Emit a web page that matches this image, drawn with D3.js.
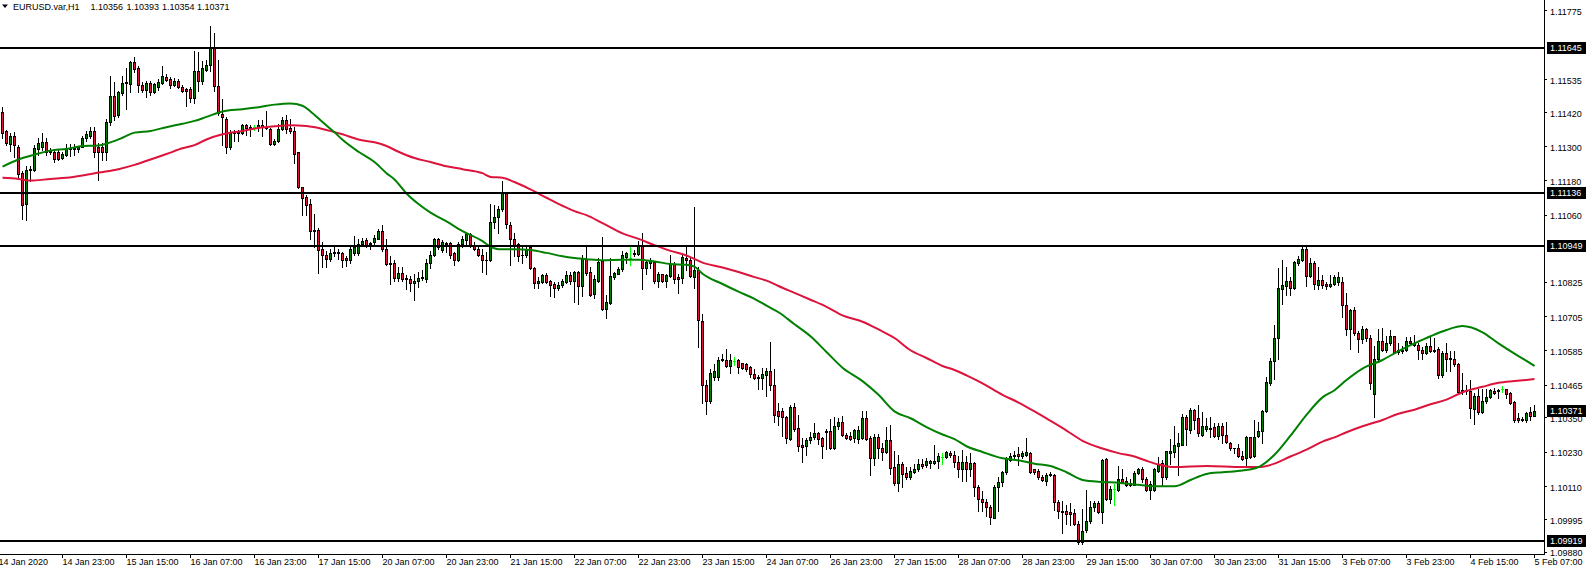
<!DOCTYPE html>
<html><head><meta charset="utf-8">
<script src="https://cdn.jsdelivr.net/npm/d3@7"></script>
<style>
html,body{margin:0;padding:0;background:#fff;overflow:hidden}
svg text{font-family:"Liberation Sans",Arial,sans-serif;font-size:9px;fill:#000}
</style>
</head><body>
<svg id="c" width="1587" height="570"></svg>
<script>
// ---- EURUSD H1 candles (index 0 = first visible bar) ----
const opens = [
1.11420,1.11351,1.11307,1.11335,1.11298,1.11207,1.11097,1.11219,1.11217,1.11290,1.11298,1.11313,1.11284,1.11280,1.11280,1.11258,1.11270,1.11292,1.11289,1.11290,1.11298,1.11327,1.11335,1.11353,1.11298,1.11298,1.11280,1.11384,1.11475,1.11408,1.11485,1.11521,1.11518,1.11594,1.11573,1.11514,1.11497,1.11522,1.11488,1.11506,1.11522,1.11543,1.11533,1.11512,1.11527,1.11508,1.11499,1.11499,
1.11469,1.11561,1.11527,1.11567,1.11583,1.11646,1.11510,1.11411,1.11396,1.11298,1.11344,1.11347,1.11347,1.11374,1.11364,1.11366,1.11366,1.11374,1.11368,1.11360,1.11307,1.11317,1.11360,1.11392,1.11363,1.11353,1.11278,1.11156,1.11122,1.11097,1.11006,1.11006,1.10941,1.10917,1.10905,1.10926,1.10930,1.10924,1.10908,1.10900,1.10926,1.10926,1.10957,1.10970,1.10957,1.10963,1.10976,1.11002,
1.10941,1.10890,1.10890,1.10839,1.10856,1.10838,1.10834,1.10819,1.10826,1.10838,1.10835,1.10890,1.10917,1.10975,1.10936,1.10962,1.10960,1.10924,1.10902,1.10957,1.10972,1.10991,1.10953,1.10941,1.10920,1.10902,1.10902,1.11033,1.11051,1.11079,1.11134,1.11024,1.10975,1.10957,1.10917,1.10917,1.10945,1.10872,1.10819,1.10823,1.10850,1.10826,1.10816,1.10802,1.10814,1.10823,1.10847,1.10826,
1.10859,1.10810,1.10904,1.10859,1.10782,1.10829,1.10896,1.10731,1.10750,1.10841,1.10853,1.10868,1.10912,1.10908,1.10923,1.10923,1.10951,1.10872,1.10890,1.10893,1.10826,1.10851,1.10826,1.10846,1.10887,1.10841,1.10838,1.10908,1.10902,1.10841,1.10866,1.10689,1.10463,1.10408,1.10490,1.10490,1.10551,1.10551,1.10530,1.10548,1.10551,1.10539,1.10536,1.10527,1.10503,1.10490,1.10487,
1.10499,1.10512,1.10463,1.10374,1.10372,1.10353,1.10274,1.10387,1.10314,1.10252,1.10249,1.10270,1.10280,1.10296,1.10277,1.10298,1.10304,1.10243,1.10319,1.10335,1.10290,1.10284,1.10277,1.10274,1.10277,1.10347,1.10277,1.10207,1.10282,1.10243,1.10229,1.10270,1.10176,1.10121,1.10188,1.10155,1.10143,1.10160,1.10170,1.10188,1.10182,1.10192,1.10192,1.10197,1.10213,1.10213,1.10225,
1.10219,1.10194,1.10168,1.10194,1.10168,1.10192,1.10107,1.10063,1.10054,1.10038,1.09999,1.10107,1.10124,1.10158,1.10200,1.10214,1.10221,1.10216,1.10219,1.10225,1.10168,1.10164,1.10143,1.10128,1.10152,1.10148,1.10054,1.10024,1.10024,1.10018,1.10014,1.09977,1.09914,1.09957,1.09986,1.10036,1.10050,1.10020,1.10204,1.10066,1.10099,1.10097,1.10136,1.10126,1.10119,1.10114,1.10155,1.10170,
1.10136,1.10097,1.10097,1.10164,1.10192,1.10140,1.10225,1.10229,1.10249,1.10255,1.10353,1.10307,1.10375,1.10347,1.10290,1.10310,1.10313,1.10316,1.10286,1.10319,1.10290,1.10262,1.10244,1.10243,1.10216,1.10207,1.10280,1.10216,1.10286,1.10304,1.10371,1.10469,1.10548,1.10627,1.10798,1.10810,1.10829,1.10802,1.10892,1.10902,1.10941,1.10845,1.10890,1.10814,1.10831,1.10817,1.10809,1.10817,
1.10823,1.10823,1.10743,1.10658,1.10725,1.10646,1.10624,1.10660,1.10627,1.10432,1.10554,1.10619,1.10585,1.10609,1.10634,1.10579,1.10587,1.10585,1.10619,1.10603,1.10603,1.10585,1.10575,1.10599,1.10582,1.10591,1.10497,1.10575,1.10558,1.10554,1.10538,1.10445,1.10445,1.10441,1.10380,1.10426,1.10368,1.10408,1.10423,1.10441,1.10441,1.10451,1.10448,1.10436,1.10403,1.10347,1.10342,1.10340,1.10368,1.10356
];
const highs = [
1.11438,1.11356,1.11347,1.11350,1.11305,1.11213,1.11231,1.11231,1.11305,1.11329,1.11345,1.11329,1.11292,1.11286,1.11289,1.11280,1.11307,1.11307,1.11307,1.11300,1.11335,1.11353,1.11366,1.11366,1.11311,1.11311,1.11396,1.11546,1.11524,1.11494,1.11546,1.11573,1.11597,1.11610,1.11579,1.11524,1.11527,1.11527,1.11522,1.11536,1.11579,1.11551,1.11543,1.11539,1.11534,1.11512,1.11502,1.11506,
1.11634,1.11628,1.11597,1.11600,1.11722,1.11695,1.11600,1.11463,1.11402,1.11356,1.11356,1.11356,1.11378,1.11378,1.11374,1.11374,1.11390,1.11390,1.11423,1.11364,1.11323,1.11378,1.11402,1.11408,1.11396,1.11368,1.11280,1.11158,1.11128,1.11116,1.11061,1.11012,1.10963,1.10932,1.10941,1.10945,1.10939,1.10930,1.10914,1.10945,1.10984,1.10975,1.10978,1.10978,1.10965,1.10990,1.11009,1.11024,
1.10973,1.10914,1.10902,1.10878,1.10875,1.10847,1.10845,1.10853,1.10859,1.10865,1.10905,1.10932,1.10978,1.10978,1.10972,1.10965,1.10965,1.10929,1.10963,1.10984,1.10997,1.10997,1.10963,1.10950,1.10941,1.10929,1.11097,1.11094,1.11091,1.11177,1.11137,1.11034,1.10997,1.10960,1.10948,1.10948,1.10948,1.10875,1.10841,1.10853,1.10856,1.10831,1.10823,1.10823,1.10835,1.10863,1.10859,1.10863,
1.10863,1.10920,1.10948,1.10878,1.10847,1.10908,1.10981,1.10780,1.10908,1.10859,1.10875,1.10932,1.10929,1.10945,1.10936,1.10969,1.10997,1.10902,1.10908,1.10896,1.10859,1.10853,1.10853,1.10920,1.10893,1.10853,1.10920,1.10948,1.10908,1.11087,1.10875,1.10713,1.10481,1.10518,1.10536,1.10561,1.10573,1.10591,1.10573,1.10563,1.10555,1.10542,1.10539,1.10530,1.10518,1.10499,1.10524,
1.10524,1.10615,1.10521,1.10399,1.10384,1.10355,1.10395,1.10399,1.10359,1.10277,1.10277,1.10298,1.10331,1.10298,1.10282,1.10310,1.10343,1.10353,1.10347,1.10355,1.10295,1.10298,1.10310,1.10319,1.10374,1.10374,1.10286,1.10292,1.10292,1.10262,1.10316,1.10322,1.10231,1.10219,1.10194,1.10176,1.10176,1.10188,1.10204,1.10204,1.10209,1.10200,1.10253,1.10225,1.10225,1.10231,1.10231,
1.10233,1.10216,1.10237,1.10216,1.10225,1.10194,1.10112,1.10094,1.10063,1.10042,1.10112,1.10143,1.10164,1.10213,1.10225,1.10231,1.10246,1.10231,1.10277,1.10229,1.10170,1.10170,1.10148,1.10155,1.10158,1.10152,1.10060,1.10058,1.10042,1.10050,1.10030,1.09986,1.10030,1.10097,1.10058,1.10058,1.10058,1.10204,1.10207,1.10109,1.10116,1.10180,1.10170,1.10143,1.10133,1.10164,1.10172,1.10176,
1.10140,1.10128,1.10172,1.10213,1.10200,1.10233,1.10274,1.10319,1.10295,1.10363,1.10359,1.10384,1.10380,1.10392,1.10368,1.10347,1.10353,1.10329,1.10329,1.10331,1.10335,1.10265,1.10244,1.10258,1.10233,1.10286,1.10282,1.10341,1.10335,1.10377,1.10493,1.10558,1.10673,1.10872,1.10900,1.10878,1.10841,1.10896,1.10914,1.10948,1.10945,1.10908,1.10896,1.10878,1.10847,1.10823,1.10847,1.10847,
1.10859,1.10843,1.10786,1.10728,1.10737,1.10652,1.10670,1.10664,1.10640,1.10599,1.10658,1.10664,1.10636,1.10656,1.10636,1.10612,1.10599,1.10631,1.10631,1.10640,1.10612,1.10597,1.10609,1.10631,1.10627,1.10595,1.10582,1.10609,1.10582,1.10582,1.10542,1.10506,1.10465,1.10481,1.10436,1.10451,1.10448,1.10451,1.10448,1.10453,1.10448,1.10460,1.10451,1.10438,1.10408,1.10365,1.10350,1.10370,1.10385,1.10393
];
const lows = [
1.11329,1.11305,1.11283,1.11262,1.11189,1.11046,1.11040,1.11176,1.11213,1.11268,1.11286,1.11268,1.11272,1.11244,1.11250,1.11253,1.11266,1.11266,1.11270,1.11280,1.11295,1.11317,1.11329,1.11262,1.11180,1.11250,1.11250,1.11375,1.11392,1.11400,1.11479,1.11429,1.11490,1.11558,1.11490,1.11488,1.11473,1.11479,1.11485,1.11497,1.11518,1.11527,1.11502,1.11509,1.11502,1.11488,1.11439,1.11453,
1.11451,1.11494,1.11518,1.11561,1.11561,1.11494,1.11408,1.11305,1.11274,1.11290,1.11319,1.11317,1.11341,1.11340,1.11335,1.11356,1.11353,1.11335,1.11358,1.11305,1.11302,1.11314,1.11356,1.11344,1.11347,1.11241,1.11152,1.11058,1.11058,1.10975,1.10948,1.10856,1.10878,1.10878,1.10896,1.10914,1.10905,1.10878,1.10881,1.10890,1.10920,1.10917,1.10951,1.10945,1.10939,1.10950,1.10973,1.10932,
1.10884,1.10817,1.10826,1.10829,1.10826,1.10801,1.10792,1.10762,1.10807,1.10831,1.10823,1.10872,1.10914,1.10941,1.10929,1.10929,1.10908,1.10884,1.10899,1.10948,1.10950,1.10948,1.10936,1.10914,1.10859,1.10853,1.10899,1.11014,1.10994,1.11073,1.11012,1.10884,1.10914,1.10899,1.10890,1.10911,1.10868,1.10804,1.10804,1.10819,1.10819,1.10774,1.10771,1.10795,1.10807,1.10819,1.10817,1.10753,
1.10746,1.10774,1.10850,1.10774,1.10768,1.10823,1.10725,1.10697,1.10746,1.10835,1.10851,1.10863,1.10892,1.10884,1.10914,1.10920,1.10798,1.10851,1.10872,1.10819,1.10807,1.10823,1.10807,1.10841,1.10819,1.10786,1.10819,1.10866,1.10841,1.10802,1.10597,1.10402,1.10363,1.10402,1.10481,1.10481,1.10548,1.10527,1.10506,1.10533,1.10506,1.10518,1.10512,1.10493,1.10485,1.10451,1.10448,
1.10426,1.10445,1.10335,1.10322,1.10286,1.10262,1.10270,1.10304,1.10231,1.10194,1.10219,1.10262,1.10274,1.10258,1.10209,1.10241,1.10241,1.10241,1.10310,1.10286,1.10274,1.10270,1.10265,1.10262,1.10274,1.10270,1.10148,1.10182,1.10207,1.10200,1.10225,1.10152,1.10112,1.10094,1.10105,1.10133,1.10136,1.10155,1.10164,1.10172,1.10176,1.10172,1.10188,1.10172,1.10188,1.10207,1.10213,
1.10176,1.10140,1.10128,1.10128,1.10146,1.10075,1.10021,1.10021,1.10005,1.09977,1.09997,1.10024,1.10109,1.10152,1.10197,1.10209,1.10182,1.10209,1.10216,1.10155,1.10152,1.10133,1.10126,1.10112,1.10146,1.10026,1.09997,1.09944,1.09977,1.09974,1.09974,1.09905,1.09908,1.09948,1.09981,1.10024,1.10014,1.09981,1.10060,1.10050,1.10042,1.10094,1.10119,1.10109,1.10109,1.10112,1.10152,1.10124,
1.10094,1.10066,1.10094,1.10158,1.10112,1.10133,1.10188,1.10213,1.10148,1.10253,1.10255,1.10295,1.10310,1.10286,1.10286,1.10304,1.10282,1.10280,1.10274,1.10262,1.10262,1.10237,1.10225,1.10213,1.10200,1.10182,1.10209,1.10213,1.10282,1.10262,1.10368,1.10465,1.10485,1.10554,1.10746,1.10780,1.10778,1.10798,1.10884,1.10896,1.10810,1.10841,1.10798,1.10798,1.10802,1.10798,1.10807,1.10814,
1.10814,1.10701,1.10640,1.10591,1.10640,1.10579,1.10609,1.10619,1.10451,1.10353,1.10548,1.10582,1.10579,1.10603,1.10575,1.10573,1.10575,1.10582,1.10603,1.10599,1.10554,1.10554,1.10573,1.10579,1.10579,1.10487,1.10493,1.10514,1.10512,1.10530,1.10435,1.10432,1.10432,1.10347,1.10326,1.10363,1.10365,1.10402,1.10418,1.10432,1.10418,1.10438,1.10418,1.10396,1.10335,1.10335,1.10338,1.10335,1.10340,1.10354
];
const closes = [
1.11347,1.11311,1.11335,1.11305,1.11201,1.11095,1.11217,1.11215,1.11292,1.11311,1.11314,1.11280,1.11278,1.11256,1.11253,1.11273,1.11292,1.11289,1.11293,1.11298,1.11329,1.11341,1.11353,1.11280,1.11280,1.11280,1.11384,1.11475,1.11406,1.11488,1.11522,1.11523,1.11594,1.11569,1.11514,1.11497,1.11522,1.11488,1.11518,1.11524,1.11546,1.11530,1.11512,1.11527,1.11506,1.11491,1.11494,1.11469,
1.11561,1.11527,1.11573,1.11585,1.11646,1.11510,1.11414,1.11402,1.11298,1.11344,1.11347,1.11350,1.11374,1.11362,1.11368,1.11366,1.11374,1.11368,1.11364,1.11307,1.11319,1.11360,1.11392,1.11360,1.11351,1.11272,1.11155,1.11119,1.11095,1.11002,1.11002,1.10936,1.10917,1.10905,1.10926,1.10930,1.10924,1.10900,1.10900,1.10941,1.10945,1.10957,1.10969,1.10953,1.10962,1.10978,1.11002,1.10941,
1.10887,1.10887,1.10839,1.10856,1.10835,1.10835,1.10819,1.10826,1.10839,1.10841,1.10890,1.10917,1.10975,1.10945,1.10963,1.10957,1.10920,1.10902,1.10957,1.10973,1.10991,1.10953,1.10939,1.10920,1.10900,1.10900,1.11033,1.11051,1.11079,1.11134,1.11027,1.10975,1.10953,1.10914,1.10920,1.10936,1.10872,1.10819,1.10829,1.10847,1.10823,1.10814,1.10802,1.10814,1.10826,1.10847,1.10826,1.10859,
1.10810,1.10904,1.10856,1.10780,1.10835,1.10893,1.10731,1.10753,1.10845,1.10856,1.10870,1.10917,1.10926,1.10908,1.10926,1.10951,1.10872,1.10893,1.10896,1.10826,1.10853,1.10826,1.10847,1.10887,1.10835,1.10835,1.10912,1.10902,1.10845,1.10866,1.10692,1.10463,1.10408,1.10506,1.10512,1.10551,1.10555,1.10530,1.10551,1.10548,1.10527,1.10524,1.10521,1.10502,1.10487,1.10487,1.10503,
1.10512,1.10465,1.10359,1.10355,1.10353,1.10277,1.10387,1.10310,1.10249,1.10246,1.10270,1.10280,1.10296,1.10274,1.10249,1.10304,1.10243,1.10319,1.10335,1.10290,1.10277,1.10274,1.10307,1.10307,1.10347,1.10274,1.10207,1.10282,1.10243,1.10229,1.10270,1.10172,1.10121,1.10188,1.10152,1.10140,1.10164,1.10170,1.10188,1.10180,1.10197,1.10197,1.10199,1.10216,1.10213,1.10228,1.10219,
1.10194,1.10168,1.10194,1.10168,1.10192,1.10107,1.10063,1.10054,1.10038,1.10002,1.10107,1.10124,1.10158,1.10209,1.10216,1.10219,1.10216,1.10225,1.10228,1.10160,1.10158,1.10140,1.10130,1.10148,1.10148,1.10054,1.10024,1.10018,1.10011,1.10011,1.09977,1.09914,1.09954,1.09988,1.10036,1.10050,1.10020,1.10200,1.10066,1.10099,1.10099,1.10136,1.10124,1.10112,1.10114,1.10155,1.10170,1.10133,
1.10097,1.10116,1.10168,1.10188,1.10140,1.10231,1.10231,1.10255,1.10260,1.10353,1.10310,1.10377,1.10341,1.10295,1.10319,1.10319,1.10310,1.10286,1.10319,1.10290,1.10265,1.10243,1.10243,1.10216,1.10204,1.10280,1.10213,1.10282,1.10304,1.10371,1.10473,1.10548,1.10627,1.10804,1.10814,1.10829,1.10802,1.10893,1.10904,1.10941,1.10845,1.10890,1.10817,1.10831,1.10814,1.10810,1.10817,1.10841,
1.10841,1.10743,1.10658,1.10725,1.10646,1.10624,1.10660,1.10627,1.10469,1.10554,1.10619,1.10587,1.10612,1.10634,1.10579,1.10587,1.10582,1.10619,1.10609,1.10612,1.10585,1.10575,1.10599,1.10582,1.10587,1.10497,1.10575,1.10554,1.10554,1.10538,1.10438,1.10438,1.10441,1.10384,1.10426,1.10368,1.10408,1.10420,1.10445,1.10436,1.10445,1.10451,1.10432,1.10399,1.10341,1.10341,1.10345,1.10365,1.10356,1.10371
];

// ---- moving averages: [bar index, value] ----
const fastMA = [[0,1.11228],[4,1.11253],[8,1.11270],[12,1.11284],[16,1.11290],[20,1.11300],[24,1.11302],[27,1.11313],[30,1.11329],[33,1.11347],[37,1.11353],[41,1.11366],[45,1.11378],[48,1.11388],[51,1.11402],[55,1.11421],[60,1.11429],[64,1.11436],[68,1.11445],[72,1.11449],[75,1.11441],[77,1.11421],[80,1.11384],[83,1.11348],[85,1.11322],[89,1.11280],[93,1.11244],[96,1.11205],[98,1.11183],[101,1.11134],[104,1.11097],[107,1.11067],[111,1.11036],[115,1.11002],[120,1.10967],[122,1.10948],[124,1.10939],[128,1.10939],[132,1.10936],[136,1.10926],[140,1.10914],[143,1.10908],[146,1.10904],[150,1.10900],[155,1.10902],[159,1.10902],[163,1.10896],[167,1.10887],[171,1.10884],[173,1.10878],[175,1.10853],[180,1.10817],[184,1.10790],[188,1.10765],[191,1.10741],[194,1.10718],[198,1.10676],[202,1.10634],[206,1.10579],[210,1.10524],[215,1.10477],[219,1.10429],[223,1.10371],[227,1.10347],[231,1.10316],[235,1.10290],[238,1.10274],[241,1.10249],[245,1.10229],[250,1.10207],[254,1.10200],[258,1.10188],[262,1.10180],[266,1.10158],[270,1.10131],[275,1.10124],[279,1.10121],[283,1.10115],[286,1.10111],[289,1.10109],[293,1.10109],[297,1.10131],[301,1.10152],[305,1.10158],[310,1.10164],[314,1.10176],[318,1.10219],[322,1.10286],[326,1.10359],[330,1.10420],[333,1.10445],[336,1.10481],[340,1.10521],[345,1.10551],[349,1.10582],[353,1.10609],[357,1.10634],[361,1.10656],[365,1.10670],[370,1.10648],[374,1.10609],[378,1.10573],[381,1.10548],[383,1.10530]];
const slowMA = [[0,1.11189],[4,1.11185],[7,1.11179],[12,1.11185],[16,1.11189],[20,1.11197],[24,1.11207],[29,1.11219],[33,1.11234],[37,1.11253],[41,1.11272],[45,1.11292],[48,1.11303],[51,1.11323],[55,1.11341],[60,1.11353],[64,1.11363],[68,1.11369],[72,1.11373],[76,1.11370],[80,1.11360],[85,1.11341],[89,1.11323],[93,1.11313],[96,1.11300],[99,1.11280],[103,1.11258],[107,1.11244],[111,1.11229],[115,1.11219],[120,1.11205],[122,1.11192],[125,1.11189],[128,1.11174],[132,1.11148],[136,1.11119],[140,1.11091],[143,1.11072],[146,1.11058],[150,1.11030],[155,1.10994],[159,1.10975],[163,1.10953],[167,1.10933],[171,1.10917],[175,1.10892],[180,1.10875],[184,1.10859],[188,1.10841],[191,1.10829],[194,1.10810],[198,1.10786],[202,1.10762],[206,1.10737],[210,1.10707],[215,1.10685],[219,1.10658],[223,1.10628],[227,1.10585],[231,1.10558],[235,1.10530],[238,1.10516],[241,1.10497],[245,1.10469],[250,1.10429],[254,1.10402],[258,1.10371],[262,1.10338],[266,1.10304],[270,1.10268],[275,1.10241],[279,1.10225],[283,1.10213],[286,1.10198],[289,1.10185],[293,1.10176],[301,1.10180],[310,1.10176],[314,1.10176],[318,1.10188],[322,1.10213],[326,1.10237],[330,1.10265],[333,1.10280],[336,1.10298],[340,1.10319],[345,1.10341],[349,1.10363],[353,1.10377],[357,1.10396],[361,1.10412],[365,1.10438],[370,1.10457],[374,1.10471],[378,1.10477],[381,1.10481],[383,1.10484]];

// ---- horizontal levels, axis labels ----
const levels = [1.11645, 1.11136, 1.10949, 1.09919];
const lastPrice = 1.10371;
const priceTicks = [1.11775,1.11535,1.11420,1.11300,1.11180,1.11060,1.10825,1.10705,1.10585,1.10465,1.10350,1.10230,1.10110,1.09995,1.09880];
const timeLabels = ["14 Jan 2020","14 Jan 23:00","15 Jan 15:00","16 Jan 07:00","16 Jan 23:00","17 Jan 15:00","20 Jan 07:00","20 Jan 23:00","21 Jan 15:00","22 Jan 07:00","22 Jan 23:00","23 Jan 15:00","24 Jan 07:00","26 Jan 23:00","27 Jan 15:00","28 Jan 07:00","28 Jan 23:00","29 Jan 15:00","30 Jan 07:00","30 Jan 23:00","31 Jan 15:00","3 Feb 07:00","3 Feb 23:00","4 Feb 15:00","5 Feb 07:00"];
const timeLabelBars = timeLabels.map((_, k) => -1 + 16 * k);
const titleParts = ["EURUSD.var,H1", "1.10356", "1.10393", "1.10354", "1.10371"];

const BULL = "#008000", BEAR = "#dc143c", DOJI = "#00ff00";
const plotRight = 1544, plotBottom = 554;

const svg = d3.select("#c");
const x = d3.scaleLinear().domain([0, 383]).range([2, 1534]);
const y = d3.scaleLinear().domain([1.09919, 1.11645]).range([540.5, 47.5]);

const bars = opens.map((o, i) => ({ i, o, h: highs[i], l: lows[i], c: closes[i] }));

const clip = svg.append("defs").append("clipPath").attr("id", "plot")
  .append("rect").attr("x", 0).attr("y", 0).attr("width", plotRight).attr("height", plotBottom);

const plot = svg.append("g").attr("clip-path", "url(#plot)");

// candles
const cg = plot.append("g").attr("shape-rendering", "crispEdges");
bars.forEach(b => {
  const cx = Math.round(x(b.i));
  const yh = Math.round(y(b.h)), yl = Math.round(y(b.l));
  const yo = Math.round(y(b.o)), yc = Math.round(y(b.c));
  if (b.o === b.c) {
    cg.append("rect").attr("x", cx).attr("y", yh).attr("width", 1).attr("height", Math.max(1, yl - yh + 1)).attr("fill", DOJI);
    cg.append("rect").attr("x", cx - 1).attr("y", yo).attr("width", 3).attr("height", 1).attr("fill", DOJI);
    return;
  }
  cg.append("rect").attr("x", cx).attr("y", yh).attr("width", 1).attr("height", Math.max(1, yl - yh + 1)).attr("fill", "#000");
  const top = Math.min(yo, yc), bot = Math.max(yo, yc);
  cg.append("rect").attr("x", cx - 1).attr("y", top).attr("width", 3).attr("height", bot - top + 1).attr("fill", "#000");
  if (bot - top >= 2) {
    cg.append("rect").attr("x", cx).attr("y", top + 1).attr("width", 1).attr("height", bot - top - 1)
      .attr("fill", b.c > b.o ? BULL : BEAR);
  }
});

// moving averages
const line = d3.line().x(d => x(d[0]) + 0.5).y(d => y(d[1])).curve(d3.curveMonotoneX);
plot.append("path").datum(slowMA).attr("d", line).attr("fill", "none").attr("stroke", BEAR).attr("stroke-width", 2);
plot.append("path").datum(fastMA).attr("d", line).attr("fill", "none").attr("stroke", BULL).attr("stroke-width", 2);

// horizontal level lines
svg.append("g").attr("shape-rendering", "crispEdges").selectAll("rect").data(levels).join("rect")
  .attr("x", 0).attr("width", plotRight).attr("y", d => Math.round(y(d)) - 1).attr("height", 2).attr("fill", "#000");

// frame
svg.append("line").attr("x1", plotRight + 0.5).attr("x2", plotRight + 0.5).attr("y1", 0).attr("y2", plotBottom + 1)
  .attr("stroke", "#000").attr("shape-rendering", "crispEdges");
svg.append("line").attr("x1", 0).attr("x2", plotRight + 1).attr("y1", plotBottom + 0.5).attr("y2", plotBottom + 0.5)
  .attr("stroke", "#000").attr("shape-rendering", "crispEdges");

// price axis
const yAxis = d3.axisRight(y).tickValues(priceTicks).tickSize(3).tickPadding(3).tickFormat(d3.format(".5f"));
const ya = svg.append("g").attr("transform", `translate(${plotRight},0)`).call(yAxis);
ya.select(".domain").remove();
ya.selectAll("line").attr("stroke", "#000").attr("shape-rendering", "crispEdges");
ya.selectAll("text").attr("font-size", null).attr("font-family", null).attr("dy", "0.36em").attr("y", 1);

// highlighted price boxes
const boxes = levels.concat([lastPrice]);
const bg = svg.append("g");
boxes.forEach(v => {
  const yy = Math.round(y(v));
  bg.append("rect").attr("x", plotRight + 3).attr("y", yy - 6).attr("width", 39).attr("height", 12).attr("fill", "#000")
    .attr("shape-rendering", "crispEdges");
  bg.append("text").attr("x", plotRight + 6).attr("y", yy).attr("dy", "0.36em").style("fill", "#fff")
    .text(d3.format(".5f")(v));
});

// time axis
const xAxis = d3.axisBottom(x).tickValues(timeLabelBars).tickSize(4).tickPadding(1)
  .tickFormat((d, k) => timeLabels[k]);
const xa = svg.append("g").attr("transform", `translate(0,${plotBottom})`).call(xAxis);
xa.select(".domain").remove();
xa.selectAll("line").attr("stroke", "#000").attr("shape-rendering", "crispEdges");
xa.selectAll("text").attr("text-anchor", "start").attr("x", 0).attr("font-size", null).attr("font-family", null);
xa.attr("font-size", null).attr("font-family", null);
ya.attr("font-size", null).attr("font-family", null);

// title
svg.append("path").attr("d", "M2,4.5 L8,4.5 L5,8 Z").attr("fill", "#000");
const titleX = [13, 90.5, 126.5, 162, 197];
titleParts.forEach((t, k) => {
  svg.append("text").attr("x", titleX[k]).attr("y", 10).text(t);
});
</script>
</body></html>
